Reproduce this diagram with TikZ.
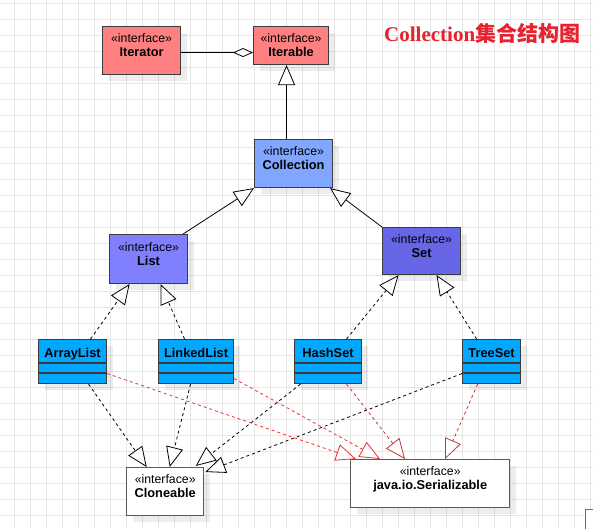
\documentclass[tikz,border=0pt]{standalone}
\usepackage{fontspec}
\setmainfont{Liberation Sans}
\newfontfamily\titleserif{Liberation Serif}
\newfontfamily\cjkfont{Noto Sans CJK SC}
\usetikzlibrary{arrows.meta,calc,shadows}
\definecolor{gridc}{HTML}{E6E6E6}
\definecolor{boxline}{HTML}{3C3C3C}
\definecolor{redif}{HTML}{FF8080}
\definecolor{collc}{HTML}{80A6FF}
\definecolor{listc}{HTML}{8080FF}
\definecolor{setc}{HTML}{6666E6}
\definecolor{classc}{HTML}{00A8FF}
\definecolor{redline}{HTML}{F03030}
\definecolor{darkred}{HTML}{B83838}
\definecolor{titlered}{HTML}{E8212E}
\definecolor{cornerblue}{HTML}{3A70E0}
\tikzset{
  shd/.style={drop shadow={fill=black,opacity=0.07,shadow xshift=6pt,shadow yshift=-6pt}},
  ibox/.style={draw=boxline,line width=1.1pt,anchor=north west,inner sep=0pt,shd},
  cbox/.style={ibox,fill=classc,minimum height=44pt},
  wbox/.style={ibox,draw=black!65,line width=1.4pt,fill=white,minimum height=48pt},
  stereo/.style={anchor=base,inner sep=0pt,font=\fontsize{12.3}{14}\selectfont},
  bname/.style={anchor=base,inner sep=0pt,font=\fontsize{12.8}{14}\selectfont\bfseries},
  gen/.style={draw=black,line width=0.8pt,-{Triangle[length=20pt,width=17pt,fill=white]}},
  real/.style={gen,dash pattern=on 3pt off 3pt},
  dep/.style={real},
  rdep/.style={draw=redline,line width=0.8pt,dash pattern=on 3pt off 3pt,-{Triangle[length=20pt,width=17pt,fill=white]}},
  drdep/.style={rdep,draw=darkred!80!redline},
  agg/.style={draw=black,line width=0.8pt,-{Diamond[length=20pt,width=9pt,fill=white]}}
}
\begin{document}
\begin{tikzpicture}[x=1pt,y=-1pt]
\useasboundingbox (0,0) rectangle (593,528);
\fill[white] (0,0) rectangle (593,528);
\foreach \x in {14,30,...,590} \draw[gridc,line width=0.9pt] (\x,0) -- (\x,528);
\foreach \y in {3,19,...,527} \draw[gridc,line width=0.9pt] (0,\y) -- (593,\y);

% corner box (partially visible)
\draw[cornerblue,fill=white,line width=1pt] (585,509) rectangle (610,540);

% title
\node[anchor=base west,inner sep=0pt,text=titlered,font=\fontsize{21}{23}\selectfont] (title) at (384,41)
  {\titleserif\bfseries Collection\cjkfont\bfseries 集合结构图};

% interfaces
\node[ibox,fill=redif,minimum width=78pt,minimum height=48pt] (iter) at (102,26) {};
\node[stereo] (iterS) at ($(iter.north)+(0,16)$) {«interface»};
\node[bname] (iterN) at ($(iter.north)+(0,30.5)$) {Iterator};

\node[ibox,fill=redif,minimum width=75pt,minimum height=38pt] (itb) at (253,26) {};
\node[stereo] (itbS) at ($(itb.north)+(0,16)$) {«interface»};
\node[bname] (itbN) at ($(itb.north)+(0,30.5)$) {Iterable};

\node[ibox,fill=collc,minimum width=78pt,minimum height=48pt] (coll) at (254,139) {};
\node[stereo] (collS) at ($(coll.north)+(0,16)$) {«interface»};
\node[bname] (collN) at ($(coll.north)+(0,30.5)$) {Collection};

\node[ibox,fill=listc,minimum width=78pt,minimum height=49pt] (list) at (109,234) {};
\node[stereo] (listS) at ($(list.north)+(0,17)$) {«interface»};
\node[bname] (listN) at ($(list.north)+(0,31)$) {List};

\node[ibox,fill=setc,minimum width=78pt,minimum height=47pt] (set) at (382,227) {};
\node[stereo] (setS) at ($(set.north)+(0,16)$) {«interface»};
\node[bname] (setN) at ($(set.north)+(0,30.5)$) {Set};

% classes
\node[cbox,minimum width=68pt] (al) at (38,339) {};
\node[cbox,minimum width=75pt] (ll) at (158,339) {};
\node[cbox,minimum width=67pt] (hs) at (294,339) {};
\node[cbox,minimum width=58pt] (ts) at (462,339) {};
\foreach \n/\t in {al/ArrayList,ll/LinkedList,hs/HashSet,ts/TreeSet}{
  \draw[boxline,line width=1.1pt] ([yshift=-24pt]\n.north west) -- ([yshift=-24pt]\n.north east);
  \draw[boxline,line width=1.1pt] ([yshift=-34pt]\n.north west) -- ([yshift=-34pt]\n.north east);
  \node[bname] (\n N) at ($(\n.north)+(0,18)$) {\t};
}

% bottom interfaces
\node[wbox,minimum width=77pt] (clo) at (126,467) {};
\node[stereo] (cloS) at ($(clo.north)+(0,16)$) {«interface»};
\node[bname] (cloN) at ($(clo.north)+(0,30.5)$) {Cloneable};

\node[wbox,minimum width=159pt] (ser) at (350,459) {};
\node[stereo] (serS) at ($(ser.north)+(0,16)$) {«interface»};
\node[bname] (serN) at ($(ser.north)+(0,30.5)$) {java.io.Serializable};

% connectors
\draw[agg] ([yshift=-2pt]iter.east) -- ([yshift=-7pt]itb.west);
\draw[gen] ([xshift=-7pt]coll.north) -- ([xshift=-4.5pt]itb.south);
\draw[gen] ([xshift=-5pt]list.north east) -- (coll.south west);
\draw[gen] (set.north west) -- ([xshift=-3pt]coll.south east);

\draw[real] ([xshift=18pt]al.north) -- ([xshift=-19pt]list.south);
\draw[real] ([xshift=-11.5pt]ll.north) -- ([xshift=12pt]list.south);
\draw[real] ([xshift=18.5pt]hs.north) -- ([xshift=-23pt]set.south);
\draw[real] ([xshift=-15pt]ts.north) -- ([xshift=15pt]set.south);

\draw[dep] ([xshift=16pt]al.south) -- ([xshift=-18.5pt]clo.north);
\draw[dep] ([xshift=-5.5pt]ll.south) -- ([xshift=4.5pt]clo.north);
\draw[dep] ([xshift=-27.5pt]hs.south) -- ([xshift=30.5pt,yshift=1pt]clo.north);
\draw[dep] ([yshift=-12pt]ts.west) -- ([xshift=1pt,yshift=-5pt]clo.north east);

\draw[rdep] ([yshift=-12pt]al.east) -- ([xshift=6pt]ser.north west);
\draw[rdep] ([yshift=-17pt]ll.east) -- ([xshift=30pt]ser.north west);
\draw[drdep] ([xshift=18.5pt]hs.south) -- ([xshift=55pt]ser.north west);
\draw[drdep] ([xshift=-14pt]ts.south) -- ([xshift=95pt]ser.north west);
\end{tikzpicture}
\end{document}
